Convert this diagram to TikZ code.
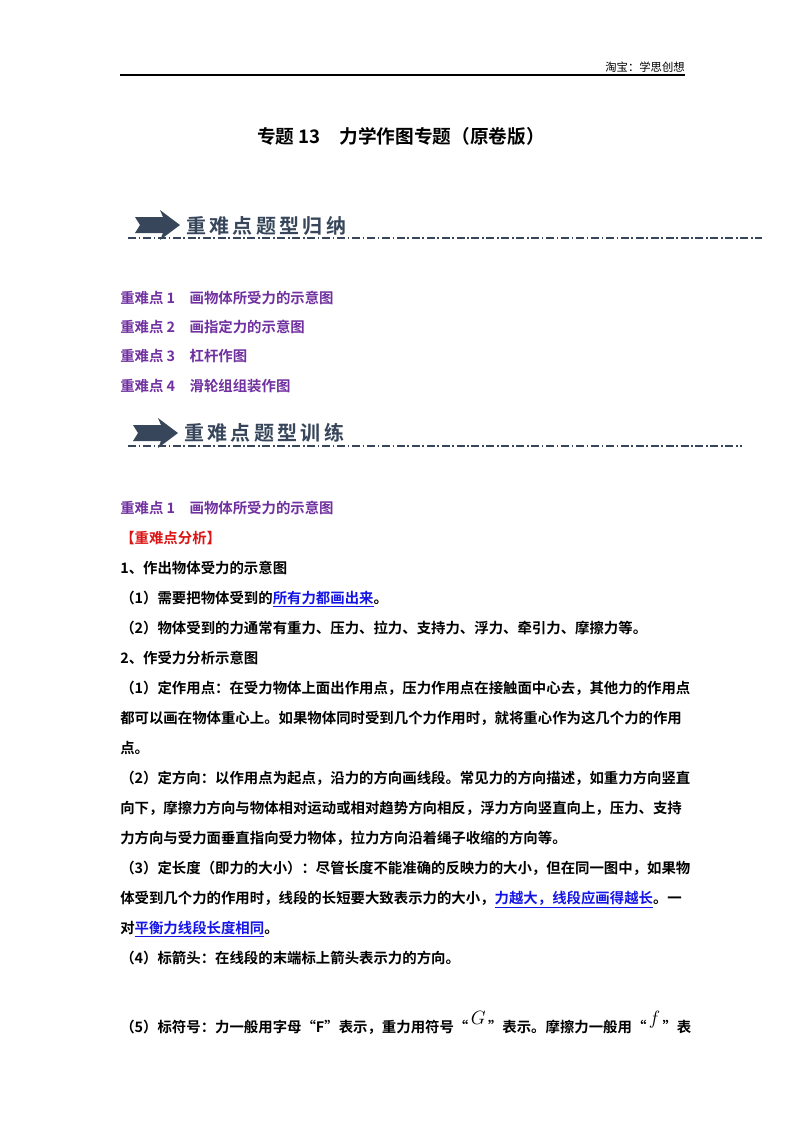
\documentclass[tikz,border=0pt]{standalone}
\usepackage{fontspec}
\setmainfont{Noto Sans CJK SC}[BoldFont={Noto Sans CJK SC Bold}]
\usepackage{tikz}
\usetikzlibrary{positioning}
\definecolor{keypurple}{RGB}{112,48,160}
\definecolor{keyred}{RGB}{220,20,20}
\definecolor{keyblue}{RGB}{20,20,230}
\definecolor{bannergray}{RGB}{55,70,90}
\newcommand{\bigsym}[1]{\raisebox{6pt}{\fontsize{15pt}{16pt}\selectfont$#1$}}
\begin{document}
\begin{tikzpicture}[x=0.75pt,y=-0.75pt,
  body/.style={anchor=base west,inner sep=0pt,font=\fontsize{10.8pt}{12pt}\selectfont\bfseries},
  pointline/.style={body,text=keypurple},
  banner/.style={anchor=base west,inner sep=0pt,text=bannergray,font=\fontsize{15pt}{16pt}\selectfont\bfseries},
  dashrule/.style={draw=bannergray,line width=0.8pt,dash pattern=on 6pt off 2pt on 1.2pt off 2pt}]
\useasboundingbox (0,0) rectangle (800,1132);
% header
\node[anchor=base east,inner sep=0pt,font=\fontsize{8.5pt}{10pt}\selectfont] (shop) at (685,71) {淘宝：学思创想};
\draw[line width=0.8pt] (120,75) coordinate (hl) -- (685,75) coordinate (hr);
% title
\node[anchor=base,inner sep=0pt,font=\fontsize{14pt}{16pt}\selectfont\bfseries] (title) at (401,143) {专题 13\quad 力学作图专题（原卷版）};
% banner 1
\fill[bannergray] (135,217) -- (163,217) -- (160,210) -- (180,225) -- (160,240) -- (163,233) -- (135,233) -- (140,225) -- cycle;
\node[banner] (ban1) at (186,233) {重\,难\,点\,题\,型\,归\,纳};
\draw[dashrule] (128,238) -- (762,238);
\node[pointline] (p1) at (120,303) {重难点 1\quad 画物体所受力的示意图};
\node[pointline] (p2) at (120,332) {重难点 2\quad 画指定力的示意图};
\node[pointline] (p3) at (120,361) {重难点 3\quad 杠杆作图};
\node[pointline] (p4) at (120,391) {重难点 4\quad 滑轮组组装作图};
% banner 2
\fill[bannergray] (133,425) -- (161,425) -- (158,418) -- (178,433) -- (158,448) -- (161,441) -- (133,441) -- (138,433) -- cycle;
\node[banner] (ban2) at (184,440) {重\,难\,点\,题\,型\,训\,练};
\draw[dashrule] (128,446) -- (742,446);
% body
\node[pointline] (k1) at (120,513) {重难点 1\quad 画物体所受力的示意图};
\node[body,text=keyred] (ana) at (120,543) {【重难点分析】};
\node[body] (s1) at (120,573) {1、作出物体受力的示意图};
\node[body] (s1a) at (120,603) {（1）需要把物体受到的\textcolor{keyblue}{\underline{所有力都画出来}}。};
\node[body] (s1b) at (120,633) {（2）物体受到的力通常有重力、压力、拉力、支持力、浮力、牵引力、摩擦力等。};
\node[body] (s2) at (120,663) {2、作受力分析示意图};
\node[body] (s2a) at (120,693) {（1）定作用点：在受力物体上面出作用点，压力作用点在接触面中心去，其他力的作用点};
\node[body] (s2a2) at (120,723) {都可以画在物体重心上。如果物体同时受到几个力作用时，就将重心作为这几个力的作用};
\node[body] (s2a3) at (120,753) {点。};
\node[body] (s2b) at (120,783) {（2）定方向：以作用点为起点，沿力的方向画线段。常见力的方向描述，如重力方向竖直};
\node[body] (s2b2) at (120,813) {向下，摩擦力方向与物体相对运动或相对趋势方向相反，浮力方向竖直向上，压力、支持};
\node[body] (s2b3) at (120,843) {力方向与受力面垂直指向受力物体，拉力方向沿着绳子收缩的方向等。};
\node[body] (s2c) at (120,873) {（3）定长度（即力的大小）：尽管长度不能准确的反映力的大小，但在同一图中，如果物};
\node[body] (s2c2) at (120,903) {体受到几个力的作用时，线段的长短要大致表示力的大小，\textcolor{keyblue}{\underline{力越大，线段应画得越长}}。一};
\node[body] (s2c3) at (120,933) {对\textcolor{keyblue}{\underline{平衡力线段长度相同}}。};
\node[body] (s2d) at (120,963) {（4）标箭头：在线段的末端标上箭头表示力的方向。};
\node[body] (s2e) at (120,1032) {（5）标符号：力一般用字母“F”表示，重力用符号“\,\bigsym{G}\,”表示。摩擦力一般用“\,\bigsym{f}\,”表};
\end{tikzpicture}
\end{document}
